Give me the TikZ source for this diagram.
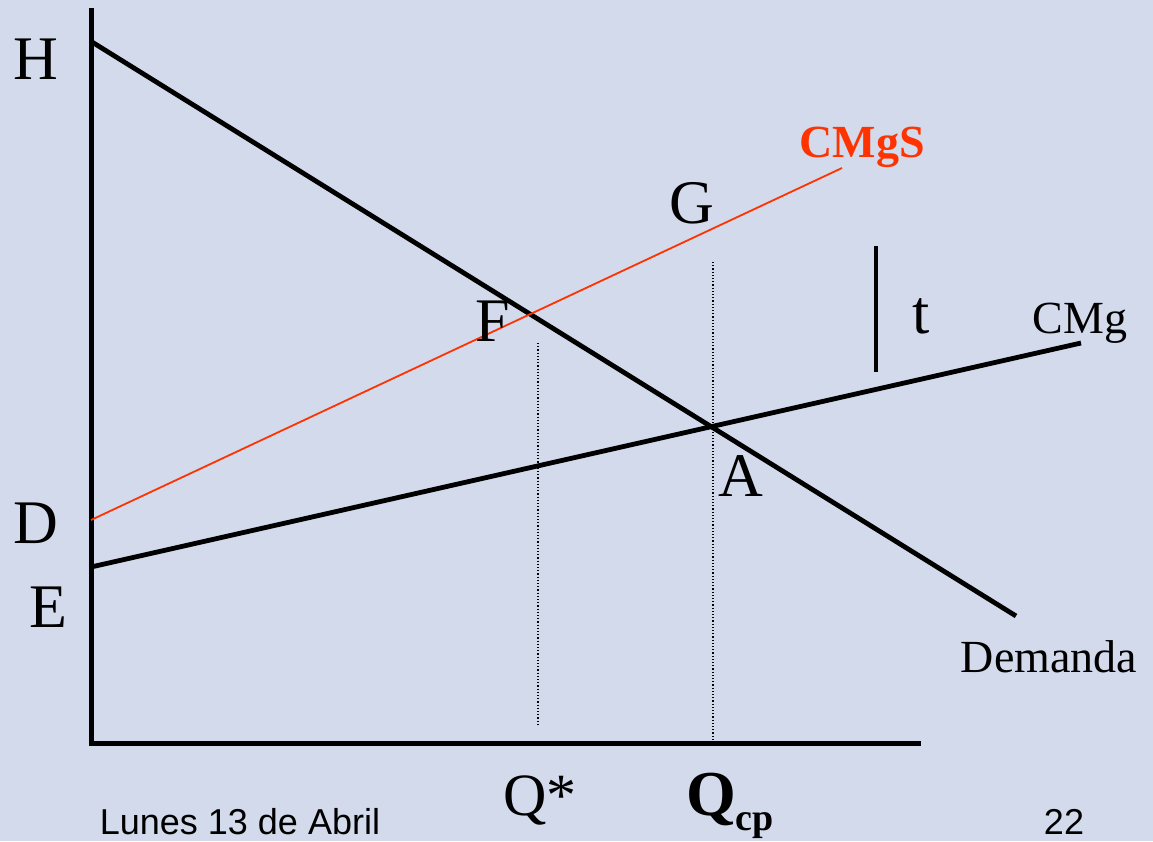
\documentclass[tikz,border=0pt]{standalone}
\usepackage{fontspec}
\setmainfont{Liberation Serif}
\setsansfont{Liberation Sans}
\usetikzlibrary{calc}
\definecolor{slidecol}{RGB}{211, 218, 236}
\definecolor{taxcol}{RGB}{255, 51, 0}
\tikzset{
  axis/.style     = {line width=5pt, line join=miter},
  curve/.style    = {line width=4.8pt},
  social/.style   = {draw=taxcol, line width=1.8pt},
  guide/.style    = {dotted, line width=1.2pt},
  taxbar/.style   = {line width=4.8pt},
  ptlbl/.style    = {font=\fontsize{62}{66}\selectfont, inner sep=0pt},
  curvelbl/.style = {font=\fontsize{46}{50}\selectfont, inner sep=0pt},
  foot/.style     = {font=\sffamily\fontsize{36}{40}\selectfont, inner sep=0pt},
}

\begin{document}
\begin{tikzpicture}[x=1pt, y=-1pt]

  \useasboundingbox (0,0) rectangle (1153,841);
  \fill[slidecol] (0,0) rectangle (1153,841);

  %% ---------------- axes ----------------
  \coordinate (ytop) at (91,8);
  \coordinate (O)    at (91,743);
  \coordinate (xend) at (921,743);
  \draw[axis] (ytop) -- (O) -- (xend);

  %% ---------------- curves ----------------
  \coordinate (H)       at (92,42);
  \coordinate (demEnd)  at (1016,616);
  \coordinate (E)       at (91,567);
  \coordinate (cmgEnd)  at (1081,343);
  \coordinate (D)       at (91,520);
  \coordinate (cmgsEnd) at (842,168);

  \draw[curve]  (H) -- (demEnd);
  \draw[curve]  (E) -- (cmgEnd);
  \draw[social] (D) -- (cmgsEnd);

  \coordinate (A) at (intersection of H--demEnd and E--cmgEnd);
  \coordinate (F) at (intersection of H--demEnd and D--cmgsEnd);

  % quantities read off the two crossings
  \coordinate (qcpTop)   at (713,262);
  \coordinate (qstarTop) at (538,343);
  \coordinate (qstarBot) at (538,725);
  \draw[guide] (qcpTop) -- (qcpTop |- O);
  \draw[guide] (qstarTop) -- (qstarBot);

  % the tax gap
  \coordinate (tTop) at (876,246);
  \coordinate (tBot) at (876,372);
  \draw[taxbar] (tTop) -- (tBot);

  %% ---------------- labels ----------------
  \node[ptlbl] (lH) at (36,59)  {H};
  \node[ptlbl] (lD) at (36,523) {D};
  \node[ptlbl] (lE) at (48,607) {E};
  \node[ptlbl] (lF) at (493,321) {F};
  \node[ptlbl] (lG) at (692,203) {G};
  \node[ptlbl] (lA) at (741,476) {A};
  \node[ptlbl] (lt) at (921,316) {t};

  \node[curvelbl] (lcmg) at (1080,323) {CMg};
  \node[curvelbl, font=\bfseries\fontsize{46}{50}\selectfont, text=taxcol]
       (lcmgs) at (862,147) {CMgS};
  \node[curvelbl] (ldem) at (1049,657) {Demanda};

  \node[ptlbl, font=\fontsize{60}{64}\selectfont, anchor=base] (lqstar)
       at (540,815) {Q*};
  \node[ptlbl, font=\bfseries\fontsize{64}{68}\selectfont, anchor=base west]
       (lqcp) at (686,815)
       {Q\raisebox{-0.24em}{\fontsize{38}{40}\selectfont cp}};

  \node[foot, anchor=base] (ldate) at (240,834) {Lunes 13 de Abril};
  \node[foot, anchor=base] (lpage) at (1064,834) {22};

\end{tikzpicture}
\end{document}
